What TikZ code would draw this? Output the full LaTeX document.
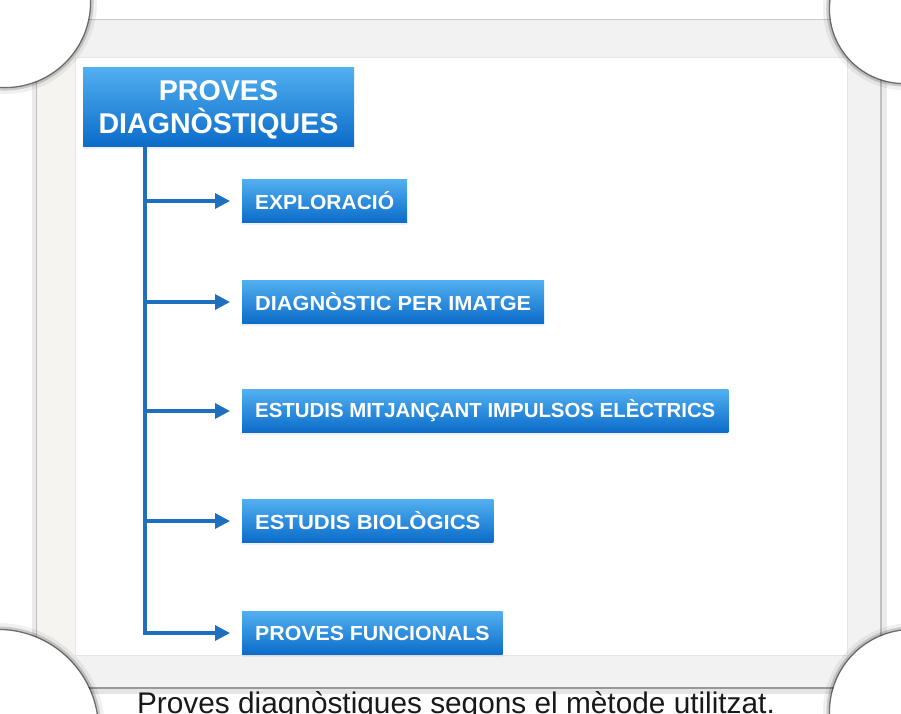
\documentclass[tikz,border=0pt]{standalone}
\usepackage{fontspec}
\setmainfont{Liberation Sans}
\usetikzlibrary{arrows.meta,shadows}

\definecolor{boxtop}{HTML}{52AFF0}
\definecolor{boxbot}{HTML}{0B6CC9}
\definecolor{linkblue}{HTML}{1F6FBF}
\definecolor{bandgray}{HTML}{F2F2F2}
\definecolor{bandwarm}{HTML}{F6F4F1}

\begin{document}
\begin{tikzpicture}[x=1pt,y=-1pt,
  catbox/.style={draw=none, top color=boxtop, bottom color=boxbot, text=white,
    font=\bfseries\fontsize{20.4}{24}\selectfont\addfontfeatures{FakeStretch=#1},
    minimum height=43pt, inner xsep=13pt, inner ysep=0pt, anchor=west,
    drop shadow={opacity=0.12, shadow xshift=0pt, shadow yshift=-2pt}},
  catbox/.default=1,
  headbox/.style={draw=none, top color=boxtop, bottom color=boxbot, text=white,
    font=\bfseries\fontsize{28.6}{33}\selectfont, align=center,
    minimum width=271pt, minimum height=79pt, inner sep=0pt,
    drop shadow={opacity=0.12, shadow xshift=0pt, shadow yshift=-2pt}},
  link/.style={draw=linkblue, line width=3.2pt,
    -{Triangle[length=15pt,width=15pt]}, shorten >=12pt},
  curlshadow/.style={draw=black, fill=none}
]
\useasboundingbox (0,0) rectangle (901,713);
\begin{scope}
\clip (0,0) rectangle (901,713);
\fill[white] (0,0) rectangle (901,713);

% paper frame with its edge shadows
\fill[bandgray] (37,19) rectangle (881,688);
\fill[bandwarm] (37,57) rectangle (75,655);
\draw[black!8, line width=5pt] (34,19) -- (34,688);
\draw[black!25, line width=1.5pt] (36.5,19) -- (36.5,688);
\draw[black!8, line width=5pt] (884,19) -- (884,688);
\draw[black!25, line width=1.5pt] (881,19) -- (881,688);
\draw[black!20, line width=1pt] (37,19.5) -- (881,19.5);
\fill[black!5] (75,655) rectangle (847,672);
\draw[black!10, line width=6pt] (37,691) -- (881,691);
\draw[black!40, line width=2pt] (37,688) -- (881,688);
\fill[white] (75,57) rectangle (847,655);
\draw[black!10, line width=0.8pt] (75,57) rectangle (847,655);

% curled corners
\foreach \cx/\cy/\r in {5/2/85, 904/9/74, -2/730/100, 912/712/82}{
  \fill[white] (\cx,\cy) circle (\r);
  \draw[curlshadow, opacity=0.06, line width=7pt] (\cx,\cy) circle (\r+3.5);
  \draw[curlshadow, opacity=0.16, line width=3.5pt] (\cx,\cy) circle (\r+1.8);
  \draw[curlshadow, opacity=0.45, line width=1.3pt] (\cx,\cy) circle (\r+0.6);
}
\end{scope}

% diagram
\coordinate (tk) at (145,0);
\node[headbox] (title) at (218.5,107) {\rule{0pt}{26.5pt}PROVES\\DIAGNÒSTIQUES};

\node[catbox=1.03]  (p1) at (242,201) {EXPLORACIÓ};
\node[catbox=1.065] (p2) at (242,302) {DIAGNÒSTIC PER IMATGE};
\node[catbox=1]     (p3) at (242,411) {ESTUDIS MITJANÇANT IMPULSOS ELÈCTRICS};
\node[catbox=1.08]  (p4) at (242,521) {ESTUDIS BIOLÒGICS};
\node[catbox=1.045] (p5) at (242,633) {PROVES FUNCIONALS};

\draw[link] (title.south -| tk) |- (p5.west);
\foreach \p in {p1,p2,p3,p4}{
  \draw[link] (tk |- \p.west) -- (\p.west);
}

\node[anchor=base, font=\fontsize{29.8}{34}\selectfont, text=black!90] (caption)
  at (456,713) {Proves diagnòstiques segons el mètode utilitzat.};
\end{tikzpicture}
\end{document}
